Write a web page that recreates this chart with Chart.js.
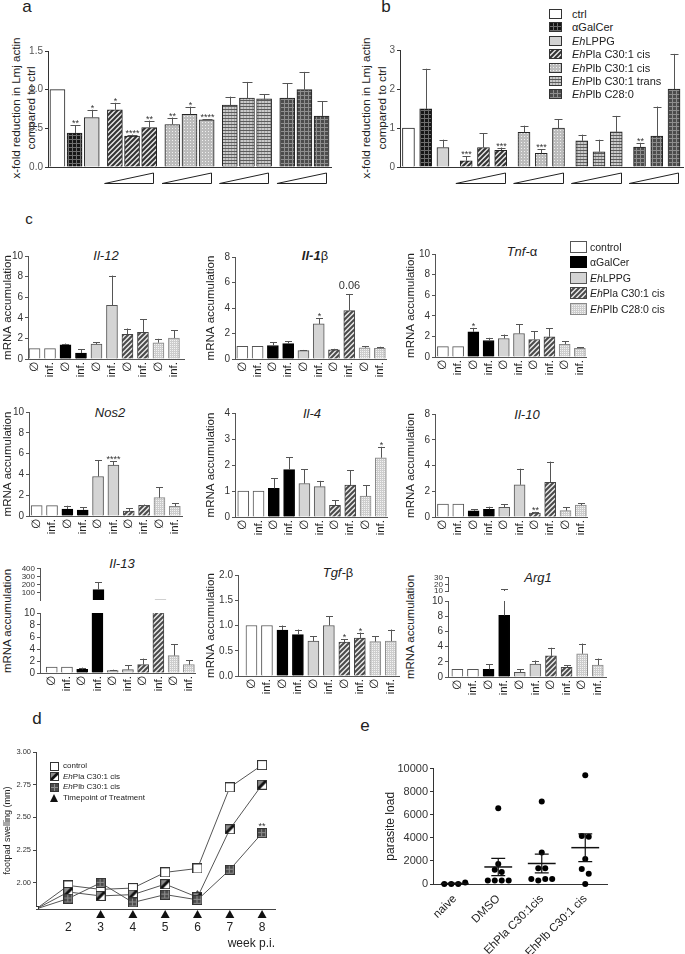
<!DOCTYPE html>
<html>
<head>
<meta charset="utf-8">
<title>Figure</title>
<script src="https://cdn.jsdelivr.net/npm/chart.js@4.4.1/dist/chart.umd.min.js"></script>
<style>
  html, body { margin: 0; padding: 0; background: #fff; }
  #fig { position: relative; width: 685px; height: 954px; overflow: hidden; font-family: Arial, "Liberation Sans", Helvetica, sans-serif; color: #222; }
  #fig canvas { position: absolute; }
  .t { position: absolute; transform: translate(-50%, -50%); white-space: nowrap; line-height: 1; }
  .letter { font-size: 17px; }
  .gene { font-size: 13px; font-style: italic; }
  .gene .up { font-style: normal; }
  .vt { position: absolute; transform: translate(-50%, -50%) rotate(-90deg); white-space: nowrap; line-height: 1; font-size: 11.5px; }
  .vt.ab { font-size: 11.6px; }
  .leg { position: absolute; white-space: nowrap; line-height: 1; transform: translateY(-50%); }
</style>
</head>
<body>
<div id="fig">
  <div class="t letter" style="left:27px;top:6px">a</div>
  <div class="t letter" style="left:386px;top:6px">b</div>
  <div class="t letter" style="left:29px;top:218px;font-size:15px">c</div>
  <div class="t letter" style="left:37px;top:718px">d</div>
  <div class="t letter" style="left:365px;top:725px">e</div>

  <div class="vt ab" style="left:16px;top:108px">x-fold reduction in Lmj actin</div>
  <div class="vt ab" style="left:31px;top:108px">compared to ctrl</div>
  <div class="vt ab" style="left:366px;top:108px">x-fold reduction in Lmj actin</div>
  <div class="vt ab" style="left:382px;top:108px">compared to ctrl</div>

  <div class="t gene" style="left:106px;top:255px">Il-12</div>
  <div class="t gene" style="left:315px;top:255px"><b>Il-1</b><span class="up">β</span></div>
  <div class="t gene" style="left:522px;top:251px">Tnf-<span class="up">α</span></div>
  <div class="t gene" style="left:110px;top:412px">Nos2</div>
  <div class="t gene" style="left:312px;top:413px">Il-4</div>
  <div class="t gene" style="left:527px;top:414px">Il-10</div>
  <div class="t gene" style="left:122px;top:563px">Il-13</div>
  <div class="t gene" style="left:338px;top:572px">Tgf-<span class="up">β</span></div>
  <div class="t gene" style="left:538px;top:577px">Arg1</div>
  <div class="vt" style="left:8px;top:621px">mRNA accumulation</div>
  <div class="vt" style="left:411px;top:627px">mRNA accumulation</div>
</div>
<script>
// ---- a / b : x-fold reduction in Lmj actin ----
const abGroups = ['ctrl', 'αGalCer', 'EhLPPG', 'EhPla C30:1 cis', 'EhPlb C30:1 cis', 'EhPlb C30:1 trans', 'EhPlb C28:0'];
const abBarGroup = [0, 1, 2, 3, 3, 3, 4, 4, 4, 5, 5, 5, 6, 6, 6];
const aValues = [1.00, 0.44, 0.64, 0.74, 0.40, 0.51, 0.55, 0.68, 0.61, 0.80, 0.89, 0.88, 0.89, 1.00, 0.66];
const aSem    = [0, 0.10, 0.10, 0.09, 0.02, 0.09, 0.09, 0.10, 0.01, 0.11, 0.21, 0.06, 0.19, 0.23, 0.19];
const aStars  = ['', '**', '*', '*', '****', '**', '**', '*', '****', '', '', '', '', '', ''];
const aTicks  = [0, 0.5, 1.0, 1.5];
const bValues = [1.00, 1.49, 0.50, 0.16, 0.50, 0.43, 0.89, 0.35, 1.00, 0.67, 0.39, 0.90, 0.51, 0.79, 2.00];
const bSem    = [0, 1.03, 0.20, 0.11, 0.36, 0.07, 0.17, 0.11, 0.22, 0.16, 0.31, 0.41, 0.11, 0.76, 0.90];
const bStars  = ['', '', '', '***', '', '***', '', '***', '', '', '', '', '**', '', ''];
const bTicks  = [0, 1, 2, 3];

// ---- c : mRNA accumulation ----
const cGroups = ['control', 'αGalCer', 'EhLPPG', 'EhPla C30:1 cis', 'EhPlb C28:0 cis'];
const cBarGroup = [0, 0, 1, 1, 2, 2, 3, 3, 4, 4];
const cLabels = ['∅', 'inf.', '∅', 'inf.', '∅', 'inf.', '∅', 'inf.', '∅', 'inf.'];
const il12Values = [1, 1, 1.38, 0.58, 1.45, 5.2, 2.4, 2.6, 1.58, 2.03];
const il12Sem    = [0, 0, 0.12, 0.37, 0.19, 2.9, 0.56, 1.26, 0.38, 0.77];
const il1bValues = [1, 1, 1.06, 1.2, 0.66, 2.75, 0.72, 3.8, 0.88, 0.84];
const il1bSem    = [0, 0, 0.27, 0.2, 0.05, 0.45, 0.08, 1.3, 0.14, 0.12];
const il1bStars  = ['', '', '', '', '', '*', '', '0.06', '', ''];
const tnfValues  = [1, 1, 2.44, 1.6, 1.8, 2.28, 1.7, 1.96, 1.24, 0.85];
const tnfSem     = [0, 0, 0.39, 0.26, 0.38, 0.88, 0.8, 0.81, 0.29, 0.09];
const tnfStars   = ['', '', '*', '', '', '', '', '', '', ''];
const nos2Values = [1, 1, 0.67, 0.58, 3.8, 4.89, 0.48, 1.02, 1.76, 0.93];
const nos2Sem    = [0, 0, 0.32, 0.25, 1.57, 0.38, 0.25, 0.08, 1.02, 0.32];
const nos2Stars  = ['', '', '', '', '', '****', '', '', '', ''];
const il4Values  = [1, 1, 1.1, 1.82, 1.29, 1.17, 0.45, 1.23, 0.8, 2.28];
const il4Sem     = [0, 0, 0.4, 0.47, 0.54, 0.22, 0.2, 0.57, 0.42, 0.42];
const il4Stars   = ['', '', '', '', '', '', '', '', '', '*'];
const il10Values = [1, 1, 0.48, 0.6, 0.75, 2.5, 0.3, 2.7, 0.5, 0.92];
const il10Sem    = [0, 0, 0.12, 0.2, 0.25, 1.25, 0.1, 1.6, 0.25, 0.13];
const il10Stars  = ['', '', '', '', '', '', '**', '', '', ''];
const il13Values = [1, 1, 0.6, 140, 0.4, 0.55, 1.4, 12, 2.9, 1.4];
const il13Sem    = [0, 0, 0.3, 90, 0.15, 0.73, 1.0, 0, 1.9, 0.7];
const tgfValues  = [1, 1, 0.91, 0.82, 0.69, 1.0, 0.67, 0.75, 0.68, 0.69];
const tgfSem     = [0, 0, 0.09, 0.1, 0.1, 0.18, 0.06, 0.11, 0.11, 0.23];
const tgfStars   = ['', '', '', '', '', '', '*', '*', '', ''];
const arg1Values = [1, 1, 1.0, 8.1, 0.6, 1.7, 2.77, 1.28, 3.06, 1.57];
const arg1Sem    = [0, 0, 0.7, 4.9, 0.4, 0.47, 1.08, 0.29, 1.34, 0.86];
const ticks10 = [0, 2, 4, 6, 8, 10];
const ticks8  = [0, 2, 4, 6, 8];
const ticks4  = [0, 1, 2, 3, 4];
const tgfTicks = [0, 0.5, 1.0, 1.5, 2.0];
const il13UpperTicks = [100, 200, 300, 400];
const arg1UpperTicks = [10, 20, 30];

// ---- d : footpad swelling ----
const dSeries = ['control', 'EhPla C30:1 cis', 'EhPlb C30:1 cis'];
const weeks = [1, 2, 3, 4, 5, 6, 7, 8];
const ctrlSwelling = [1.80, 1.98, 1.95, 1.96, 2.08, 2.11, 2.73, 2.90];
const plaSwelling  = [1.80, 1.93, 1.90, 1.91, 1.99, 1.89, 2.41, 2.75];
const plbSwelling  = [1.80, 1.88, 2.00, 1.85, 1.91, 1.87, 2.10, 2.38];
const dStars = ['', '', '', '', '', '*', '', '**'];
const treatWeeks = [3, 4, 5, 6, 7, 8];
const dTicksX = [2, 3, 4, 5, 6, 7, 8];
const dTicksY = [2.00, 2.25, 2.50, 2.75, 3.00];

// ---- e : parasite load ----
const eGroups = ['naive', 'DMSO', 'EhPla C30:1cis', 'EhPlb C30:1 cis'];
const naiveLoad = [0, 0, 0, 140];
const dmsoLoad  = [6570, 1740, 1230, 1030, 310, 310, 310, 310];
const plaLoad   = [7140, 2740, 1370, 1370, 430, 310, 430, 430];
const plbLoad   = [9430, 4170, 4090, 2170, 1290, 890, 0];
const eTicks = [0, 2000, 4000, 6000, 8000, 10000];

Chart.defaults.font.family = 'Arial, "Liberation Sans", Helvetica, sans-serif';
Chart.defaults.color = '#333';
Chart.defaults.animation = false;
Chart.defaults.events = [];
Chart.defaults.plugins.legend.display = false;
Chart.defaults.plugins.tooltip.enabled = false;

const fig = document.getElementById('fig');
const FONT = 'Arial, "Liberation Sans", sans-serif';

function makeCanvas(l, t, w, h) {
  const c = document.createElement('canvas');
  c.width = w; c.height = h;
  c.style.left = l + 'px'; c.style.top = t + 'px';
  c.style.width = w + 'px'; c.style.height = h + 'px';
  fig.appendChild(c);
  return c;
}

// fill patterns
const tiles = {};
function drawTile(kind) {
  const c = document.createElement('canvas');
  const g = c.getContext('2d');
  const box = (w, h, col) => { c.width = w; c.height = h; g.fillStyle = col; g.fillRect(0, 0, w, h); };
  const dot = (x, y, w, h, col) => { g.fillStyle = col; g.fillRect(x, y, w, h); };
  const diag = col => {
    g.strokeStyle = col; g.lineWidth = 2; g.beginPath();
    g.moveTo(-1, 6); g.lineTo(6, -1); g.moveTo(-1, 1); g.lineTo(1, -1); g.moveTo(4, 6); g.lineTo(6, 4);
    g.stroke();
  };
  if (kind === 'check') { box(4, 4, '#161616'); dot(0, 0, 4, 1, '#6e6e6e'); dot(0, 0, 1, 4, '#6e6e6e'); }
  else if (kind === 'hatch') { box(5, 5, '#e4e4e4'); diag('#333'); }
  else if (kind === 'hatch2') { box(5, 5, '#e8e8e8'); diag('#4a4a4a'); }
  else if (kind === 'dots') { box(3, 3, '#bcbcbc'); dot(1, 1, 1, 1, '#efefef'); }
  else if (kind === 'hlines') { box(3, 3, '#c9c9c9'); dot(0, 0, 3, 1, '#5c5c5c'); dot(0, 1, 1, 2, '#a3a3a3'); }
  else if (kind === 'dark') { box(4, 4, '#4c4c4c'); dot(0, 0, 4, 1, '#8e8e8e'); dot(0, 0, 1, 4, '#8e8e8e'); }
  else if (kind === 'ldots') { box(2, 2, '#cdcdcd'); dot(0, 0, 1, 1, '#f3f3f3'); }
  return c;
}
function getTile(kind) { return tiles[kind] || (tiles[kind] = drawTile(kind)); }
function paint(chart, kind) {
  return kind[0] === '#' ? kind : chart.ctx.createPattern(getTile(kind), 'repeat');
}
function swatch(kind, w, h, border) {
  const c = document.createElement('canvas');
  c.width = w; c.height = h;
  const g = c.getContext('2d');
  g.fillStyle = kind[0] === '#' ? kind : g.createPattern(getTile(kind), 'repeat');
  g.fillRect(0, 0, w, h);
  g.strokeStyle = border; g.lineWidth = 1; g.strokeRect(0.5, 0.5, w - 1, h - 1);
  return c;
}
function marker(kind, s) {
  const c = document.createElement('canvas');
  c.width = c.height = s;
  const g = c.getContext('2d');
  if (kind === 'tri') {
    g.fillStyle = '#111'; g.beginPath(); g.moveTo(s / 2, 0); g.lineTo(s, s); g.lineTo(0, s); g.closePath(); g.fill();
    return c;
  }
  g.fillStyle = '#fff'; g.fillRect(0, 0, s, s);
  if (kind === 'pla') {
    g.fillStyle = '#8c8c8c'; g.beginPath(); g.moveTo(0, 0); g.lineTo(s, 0); g.lineTo(0, s); g.closePath(); g.fill();
    g.strokeStyle = '#111'; g.lineWidth = s * 0.3; g.beginPath(); g.moveTo(0, s); g.lineTo(s, 0); g.stroke();
  } else if (kind === 'plb') {
    g.fillStyle = g.createPattern(getTile('dark'), 'repeat'); g.fillRect(0, 0, s, s);
  }
  g.strokeStyle = '#333'; g.lineWidth = 1; g.strokeRect(0.5, 0.5, s - 1, s - 1);
  return c;
}

const nameHtml = s => s.startsWith('Eh') ? '<i>Eh</i>' + s.slice(2) : s;
function legendRow(icon, x, y, tx, text, size) {
  icon.style.left = x + 'px';
  icon.style.top = Math.round(y - icon.height / 2) + 'px';
  fig.appendChild(icon);
  const d = document.createElement('div');
  d.className = 'leg';
  d.style.left = tx + 'px'; d.style.top = y + 'px'; d.style.fontSize = size + 'px';
  d.innerHTML = nameHtml(text);
  fig.appendChild(d);
}

// error bars (upper half) plus significance labels
function errorBars(sem, stars, capHalf, starSize) {
  return {
    id: 'errorBars',
    afterDatasetsDraw(chart) {
      const { ctx, chartArea: area } = chart;
      const xs = chart.scales.x, ys = chart.scales.y;
      ctx.save();
      ctx.strokeStyle = '#555'; ctx.fillStyle = '#333'; ctx.lineWidth = 1;
      ctx.textAlign = 'center'; ctx.textBaseline = 'alphabetic';
      chart.data.datasets[0].data.forEach((p, i) => {
        const e = sem[i] || 0;
        const x = Math.round(xs.getPixelForValue(p.x)) + 0.5;
        const y0 = ys.getPixelForValue(p.y), y1 = ys.getPixelForValue(p.y + e);
        if (e > 0) {
          const from = Math.min(y0, area.bottom), to = Math.max(y1, area.top);
          if (from > to) { ctx.beginPath(); ctx.moveTo(x, from); ctx.lineTo(x, to); ctx.stroke(); }
          if (y1 >= area.top - 0.5 && y1 <= area.bottom) {
            const yy = Math.round(y1) + 0.5;
            ctx.beginPath(); ctx.moveTo(x - capHalf, yy); ctx.lineTo(x + capHalf, yy); ctx.stroke();
          }
        }
        const s = stars && stars[i];
        if (s && y1 >= area.top - 20) {
          const star = /^\*+$/.test(s);
          ctx.font = (star ? starSize : 11) + 'px ' + FONT;
          ctx.fillText(s, x, star ? y1 + 1 : y1 - 5);
        }
      });
      ctx.restore();
    }
  };
}

function yAxis(o) {
  return {
    min: o.min, max: o.max,
    afterBuildTicks: s => { s.ticks = o.ticks.map(v => ({ value: v })); },
    afterFit: s => { s.width = o.width; },
    border: { color: o.color || '#444' },
    grid: { display: true, drawOnChartArea: false, drawTicks: true, tickLength: 3, color: o.color || '#444' },
    ticks: { autoSkip: false, padding: 2, color: o.tickColor || '#333', font: { size: o.size || 10 }, callback: o.fmt || (v => v) },
    title: o.title
      ? { display: true, text: o.title, color: '#222', font: { size: o.titleSize || 11.5, lineHeight: o.titleLH || 1.2 }, padding: { top: o.titlePad || 1, bottom: 0 } }
      : { display: false }
  };
}

function bars(o) {
  const xh = o.xh ?? 26, pt = o.padTop ?? 8, pr = o.padRight ?? 8, pb = o.padBottom ?? 0;
  const cv = makeCanvas(o.area.l - o.yw, o.area.t - pt, o.area.r - o.area.l + o.yw + pr, o.area.b - o.area.t + pt + xh + pb);
  const pos = o.values.map((v, i) => o.xPos ? o.xPos(i) : i);
  o.y.width = o.yw;
  o.y.color = o.axis;
  return new Chart(cv, {
    type: 'bar',
    data: {
      datasets: [{
        data: o.values.map((v, i) => ({ x: pos[i], y: v })),
        backgroundColor: c => paint(c.chart, o.fills[c.dataIndex]),
        borderColor: c => o.borders[c.dataIndex],
        borderWidth: 1,
        barThickness: o.barW,
        clip: 0
      }]
    },
    options: {
      responsive: false,
      layout: { padding: { top: pt, right: pr, bottom: pb, left: 0 } },
      scales: {
        x: {
          type: 'linear', min: o.xMin, max: o.xMax, offset: false, display: !o.hideX,
          grid: { display: false, drawTicks: false }, border: { color: o.axis },
          afterBuildTicks: s => { s.ticks = pos.map(v => ({ value: v })); },
          afterFit: s => { s.height = xh; },
          ticks: {
            display: !!o.xLabels, autoSkip: false, minRotation: 90, maxRotation: 90, padding: 3,
            color: '#222', font: { size: 11.5 }, callback: (v, i) => o.xLabels ? o.xLabels[i] : ''
          }
        },
        y: yAxis(o.y)
      }
    },
    plugins: [errorBars(o.sem, o.stars, o.cap, o.starSize)].concat(o.extra || [])
  });
}

// ---------- panels a and b ----------
const abFill = ['#ffffff', 'check', '#d4d4d4', 'hatch', 'dots', 'hlines', 'dark'];
const abPos = i => i + 0.35 * (abBarGroup[i] < 3 ? 0 : abBarGroup[i] - 2);
const doseBlocks = [3, 4, 5, 6].map(g => [abBarGroup.indexOf(g), abBarGroup.lastIndexOf(g)]);
const wedges = {
  id: 'wedges',
  afterDraw(chart) {
    const xs = chart.scales.x, ctx = chart.ctx, b = chart.chartArea.bottom;
    ctx.save();
    ctx.strokeStyle = '#222'; ctx.lineWidth = 1;
    doseBlocks.forEach(([i0, i1]) => {
      const x0 = xs.getPixelForValue(abPos(i0) - 0.6), x1 = Math.round(xs.getPixelForValue(abPos(i1) + 0.25)) + 0.5;
      ctx.beginPath(); ctx.moveTo(x0, b + 16.5); ctx.lineTo(x1, b + 16.5); ctx.lineTo(x1, b + 6); ctx.closePath(); ctx.stroke();
    });
    ctx.restore();
  }
};

bars({
  area: { l: 48, t: 51, r: 331, b: 167 }, yw: 48, xh: 20, padRight: 4,
  values: aValues, sem: aSem, stars: aStars, xPos: abPos, xMin: -0.55, xMax: 15.95,
  fills: abBarGroup.map(g => abFill[g]), borders: abBarGroup.map(() => '#222'),
  barW: 15, cap: 5, starSize: 9, axis: '#333', extra: [wedges],
  y: { min: 0, max: 1.5, ticks: aTicks, fmt: v => v.toFixed(1), tickColor: '#555' }
});
bars({
  area: { l: 400, t: 50, r: 683, b: 167 }, yw: 48, xh: 20, padRight: 2,
  values: bValues, sem: bSem, stars: bStars, xPos: abPos, xMin: -0.49, xMax: 15.92,
  fills: abBarGroup.map(g => abFill[g]), borders: abBarGroup.map(() => '#222'),
  barW: 12, cap: 4, starSize: 9, axis: '#333', extra: [wedges],
  y: { min: 0, max: 3, ticks: bTicks, tickColor: '#555' }
});
abGroups.forEach((n, k) => legendRow(swatch(abFill[k], 13, 10, '#333'), 549, 14 + k * 13.4, 572, n, 11));

// ---------- panel c ----------
const cFill = ['#ffffff', '#000000', '#d4d4d4', 'hatch2', 'ldots'];
const cBorder = ['#555', '#000', '#555', '#444', '#888'];
function cChart(area, yw, xMin, xMax, values, sem, stars, y, more) {
  return bars(Object.assign({
    area, yw, xMin, xMax, values, sem, stars, y, xLabels: cLabels,
    fills: cBarGroup.map(g => cFill[g]), borders: cBarGroup.map(g => cBorder[g]),
    barW: 11, cap: 3.5, starSize: 9, axis: '#555'
  }, more || {}));
}
const mrna = 'mRNA accumulation';
cChart({ l: 28, t: 256, r: 184, b: 359 }, 28, -0.42, 9.65, il12Values, il12Sem, null, { min: 0, max: 10, ticks: ticks10, title: mrna, titlePad: 1 });
cChart({ l: 235, t: 257, r: 389, b: 359 }, 35, -0.48, 9.45, il1bValues, il1bSem, il1bStars, { min: 0, max: 8, ticks: ticks8, title: mrna, titlePad: 4 });
cChart({ l: 435, t: 254, r: 589, b: 357 }, 35, -0.52, 9.41, tnfValues, tnfSem, tnfStars, { min: 0, max: 10, ticks: ticks10, title: mrna, titlePad: 4 });
cChart({ l: 29, t: 412, r: 184, b: 516 }, 29, -0.5, 9.5, nos2Values, nos2Sem, nos2Stars, { min: 0, max: 10, ticks: ticks10, title: mrna, titlePad: 1 });
cChart({ l: 235, t: 413, r: 390, b: 517 }, 35, -0.54, 9.46, il4Values, il4Sem, il4Stars, { min: 0, max: 4, ticks: ticks4, title: mrna, titlePad: 4 });
cChart({ l: 435, t: 414, r: 590, b: 517 }, 35, -0.52, 9.45, il10Values, il10Sem, il10Stars, { min: 0, max: 8, ticks: ticks8, title: mrna, titlePad: 4 });
// Il-13 broken axis: lower and upper segment
cChart({ l: 40, t: 613, r: 198, b: 673 }, 40, -0.77, 9.42, il13Values, il13Sem, null, { min: 0, max: 10, ticks: ticks10 });
cChart({ l: 40, t: 568, r: 198, b: 600 }, 40, -0.77, 9.42, il13Values, il13Sem, null, { min: 10, max: 400, ticks: il13UpperTicks, size: 8 },
  { hideX: true, xh: 0, padTop: 6, padBottom: 7 });
cChart({ l: 238, t: 575, r: 400, b: 676 }, 38, -0.87, 9.55, tgfValues, tgfSem, tgfStars, { min: 0, max: 2, ticks: tgfTicks, fmt: v => v.toFixed(1), title: mrna, titlePad: 4 });
// Arg1 broken axis
cChart({ l: 448, t: 601, r: 607, b: 677 }, 48, -0.6, 9.55, arg1Values, arg1Sem, null, { min: 0, max: 10, ticks: ticks10 });
cChart({ l: 448, t: 577, r: 607, b: 591 }, 48, -0.6, 9.55, arg1Values, arg1Sem, null, { min: 10, max: 30, ticks: arg1UpperTicks, size: 8 },
  { hideX: true, xh: 0, padTop: 6, padBottom: 7 });
cGroups.forEach((n, k) => legendRow(swatch(cFill[k], 17, 12, cBorder[k]), 570, 246.5 + k * 15.5, 590, n, 10.5));

// ---------- panel d ----------
(function () {
  const area = { l: 36, t: 752, r: 275, b: 909 };
  const cv = makeCanvas(0, area.t - 8, area.r + 6, area.b - area.t + 8 + 42);
  const icons = { start: marker('ctrl', 6), ctrl: marker('ctrl', 10), pla: marker('pla', 10), plb: marker('plb', 10) };
  const series = (vals, icon, order) => ({
    data: weeks.map((w, i) => ({ x: w, y: vals[i] })),
    borderColor: '#555', borderWidth: 1, tension: 0,
    pointStyle: c => c.dataIndex === 0 ? icons.start : icon, pointRadius: 5, order
  });
  const treat = {
    id: 'treat',
    afterDraw(chart) {
      const xs = chart.scales.x, ys = chart.scales.y, ctx = chart.ctx, b = chart.chartArea.bottom;
      ctx.save();
      ctx.fillStyle = '#111';
      treatWeeks.forEach(w => {
        const x = xs.getPixelForValue(w);
        ctx.beginPath(); ctx.moveTo(x, b + 1); ctx.lineTo(x + 4.5, b + 9); ctx.lineTo(x - 4.5, b + 9); ctx.closePath(); ctx.fill();
      });
      ctx.font = '9px ' + FONT; ctx.textAlign = 'center'; ctx.textBaseline = 'alphabetic'; ctx.fillStyle = '#333';
      dStars.forEach((s, i) => { if (s) ctx.fillText(s, xs.getPixelForValue(weeks[i]), ys.getPixelForValue(plbSwelling[i]) - 4); });
      ctx.restore();
    }
  };
  new Chart(cv, {
    type: 'line',
    data: { datasets: [series(ctrlSwelling, icons.ctrl, 3), series(plaSwelling, icons.pla, 2), series(plbSwelling, icons.plb, 1)] },
    options: {
      responsive: false,
      layout: { padding: { top: 8, right: 6, bottom: 0, left: 0 } },
      scales: {
        x: {
          type: 'linear', min: 1, max: 8.4,
          afterBuildTicks: s => { s.ticks = dTicksX.map(v => ({ value: v })); },
          afterFit: s => { s.height = 42; },
          grid: { display: false, drawTicks: false }, border: { color: '#444' },
          ticks: { padding: 11, color: '#222', font: { size: 12 }, maxRotation: 0, autoSkip: false },
          title: { display: true, text: 'week p.i.', align: 'end', color: '#222', font: { size: 12 }, padding: { top: 2, bottom: 0 } }
        },
        y: yAxis({ min: 1.8, max: 3, ticks: dTicksY, width: 36, fmt: v => v.toFixed(2), size: 7.5, title: 'footpad swelling (mm)', titleSize: 9, titleLH: 1.3, titlePad: 2 })
      }
    },
    plugins: [treat]
  });
  const dIcons = [marker('ctrl', 9), marker('pla', 9), marker('plb', 9)];
  dSeries.forEach((n, k) => legendRow(dIcons[k], 50, 766 + k * 10.5, 63, n, 8));
  legendRow(marker('tri', 8), 50, 766 + 3 * 10.5, 63, 'Timepoint of Treatment', 8);
})();

// ---------- panel e ----------
(function () {
  const loads = [naiveLoad, dmsoLoad, plaLoad, plbLoad];
  // spread points of similar value side by side, in array order
  function spread(vals, tol, step) {
    const off = vals.map(() => 0);
    const order = vals.map((v, i) => i).sort((p, q) => vals[p] - vals[q]);
    let cl = [order[0]];
    const flush = () => cl.sort((p, q) => p - q).forEach((idx, k) => { off[idx] = (k - (cl.length - 1) / 2) * step; });
    for (let j = 1; j < order.length; j++) {
      if (vals[order[j]] - vals[order[j - 1]] < tol) cl.push(order[j]);
      else { flush(); cl = [order[j]]; }
    }
    flush();
    return off;
  }
  const points = [];
  loads.forEach((vals, g) => {
    const off = spread(vals, 450, 0.16);
    vals.forEach((v, i) => points.push({ x: g + off[i], y: v }));
  });
  const meanSem = {
    id: 'meanSem',
    afterDatasetsDraw(chart) {
      const xs = chart.scales.x, ys = chart.scales.y, ctx = chart.ctx;
      ctx.save();
      ctx.strokeStyle = '#111';
      loads.forEach((vals, g) => {
        const n = vals.length;
        const m = vals.reduce((s, v) => s + v, 0) / n;
        const sd = Math.sqrt(vals.reduce((s, v) => s + (v - m) * (v - m), 0) / (n - 1));
        const se = sd / Math.sqrt(n);
        const X = v => xs.getPixelForValue(v), Y = v => ys.getPixelForValue(v);
        ctx.lineWidth = 1.5;
        ctx.beginPath(); ctx.moveTo(X(g - 0.32), Y(m)); ctx.lineTo(X(g + 0.32), Y(m)); ctx.stroke();
        ctx.lineWidth = 1.2;
        ctx.beginPath();
        ctx.moveTo(X(g), Y(m - se)); ctx.lineTo(X(g), Y(m + se));
        ctx.moveTo(X(g - 0.16), Y(m + se)); ctx.lineTo(X(g + 0.16), Y(m + se));
        ctx.moveTo(X(g - 0.16), Y(m - se)); ctx.lineTo(X(g + 0.16), Y(m - se));
        ctx.stroke();
      });
      ctx.restore();
    }
  };
  const cv = makeCanvas(380, 760, 53 + 174 + 12, 8 + 116 + 70);
  new Chart(cv, {
    type: 'scatter',
    data: { datasets: [{ data: points, pointRadius: 3, pointBackgroundColor: '#000', pointBorderWidth: 0, clip: false }] },
    options: {
      responsive: false,
      layout: { padding: { top: 8, right: 12, bottom: 0, left: 0 } },
      scales: {
        x: {
          type: 'linear', min: -0.5, max: 3.5,
          afterBuildTicks: s => { s.ticks = eGroups.map((n, i) => ({ value: i })); },
          afterFit: s => { s.height = 70; },
          grid: { display: false, drawTicks: false }, border: { color: '#333' },
          ticks: { autoSkip: false, minRotation: 45, maxRotation: 45, padding: 8, color: '#222', font: { size: 11.5 }, callback: (v, i) => eGroups[i] }
        },
        y: yAxis({ min: 0, max: 10000, ticks: eTicks, width: 53, size: 11, color: '#333', title: 'parasite load', titleSize: 12, titleLH: 1.3, titlePad: 3 })
      }
    },
    plugins: [meanSem]
  });
})();
</script>
</body>
</html>
